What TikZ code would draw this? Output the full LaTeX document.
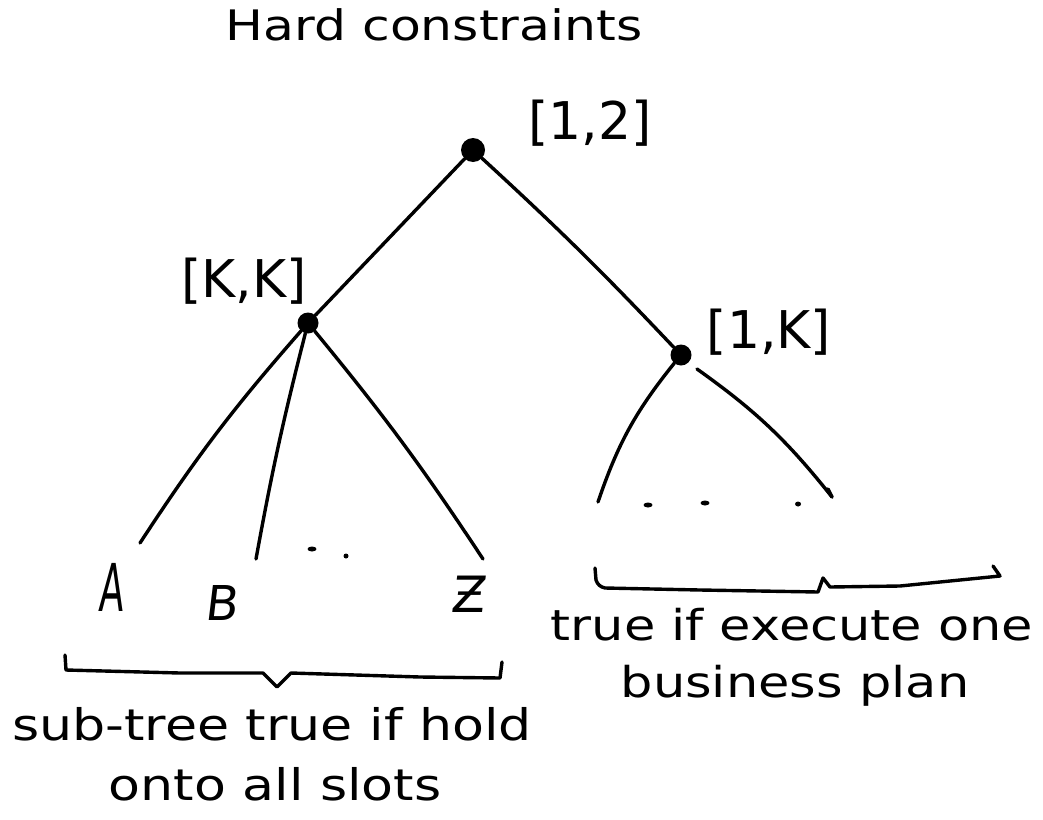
\documentclass[tikz,border=0pt]{standalone}
\usepackage{fontspec}
\setmainfont{DejaVu Sans}
\newfontfamily\handfont[FakeStretch=1.2]{DejaVu Sans}
\newfontfamily\labfont{DejaVu Sans}
\newfontfamily\letfont[FakeSlant=0.12]{DejaVu Sans}
\usetikzlibrary{shapes.geometric}
\tikzset{
  ink/.style={line width=3.4pt, line cap=round, line join=round},
  vertex/.style={circle, fill=black, inner sep=0pt, minimum size=24pt},
  caption/.style={anchor=base, inner sep=0pt, font=\handfont\fontsize{42.5}{43}\selectfont},
  rangelab/.style={inner sep=0pt, font=\labfont\fontsize{52}{52}\selectfont},
  leaflab/.style={inner sep=0pt, font=\letfont\fontsize{48}{48}\selectfont},
  dotmark/.style={ellipse, fill=black, inner sep=0pt, minimum width=9pt, minimum height=5pt},
}
\begin{document}
\begin{tikzpicture}[x=1pt,y=-1pt]
\useasboundingbox (0,0) rectangle (1043,819);
\fill[white] (0,0) rectangle (1043,819);

% title
\node[caption, font=\handfont\fontsize{42}{42}\selectfont] (title) at (434,40) {Hard constraints};

% tree nodes
\node[vertex] (root) at (473,150) {};
\node[vertex, minimum size=21pt] (lc) at (308,323) {};
\node[vertex, minimum size=21pt] (rc) at (681,355) {};

% range labels
\node[rangelab] (r12) at (590,123) {[1,2]};
\node[rangelab] (rKK) at (244,281) {[K,K]};
\node[rangelab] (r1K) at (769,332) {[1,K]};

% free ends
\coordinate (ea) at (140,543);
\coordinate (eb) at (256,559);
\coordinate (ez) at (483,559);
\coordinate (er1) at (598,502);
\coordinate (er2s) at (697,369);
\coordinate (er2) at (832,497);

% edges
\draw[ink] (root) -- (lc);
\draw[ink] (root) to[bend left=2] (rc);
\draw[ink] (lc) to[bend right=4] (ea);
\draw[ink] (lc) to[bend right=2] (eb);
\draw[ink] (lc) to[bend left=3] (ez);
\draw[ink] (rc) to[bend right=10] (er1);
\draw[ink] (er2s) to[bend left=8] (er2);
\draw[ink] (er2) -- ++(-4,-8);

% leaf letters
\node[leaflab, font=\letfont\fontsize{66}{66}\selectfont] (A) at (111,587) {\scalebox{0.55}[1]{A}};
\node[leaflab] (B) at (221,603) {B};
\node[leaflab, font=\letfont\fontsize{50}{50}\selectfont] (Z) at (468,594) {Ƶ};

% dots
\node[dotmark] (d1) at (312,549) {};
\node[dotmark, minimum width=5pt] (d2) at (346,556) {};
\node[dotmark] (d3) at (648,505) {};
\node[dotmark] (d4) at (705,503) {};
\node[dotmark, minimum width=6pt] (d5) at (798,504) {};

% left brace
\draw[ink] (65,655) -- (66,670) -- (180,673) -- (263,673) -- (277,687) -- (291,673) -- (420,677) -- (500,678) -- (502,662);
% right brace
\draw[ink] (595,568) -- (596,580) to[bend right=30] (605,588) -- (700,590) -- (818,592) -- (823,578) -- (830,587) -- (900,586) -- (1000,576) -- (993,566);

% captions
\node[caption, font=\handfont\fontsize{43.5}{44}\selectfont] (c1) at (272,740) {sub-tree true if hold};
\node[caption, font=\handfont\fontsize{43.5}{44}\selectfont] (c2) at (275,800) {onto all slots};
\node[caption] (c3) at (792,640) {true if execute one};
\node[caption] (c4) at (795,697) {business plan};
\end{tikzpicture}
\end{document}
